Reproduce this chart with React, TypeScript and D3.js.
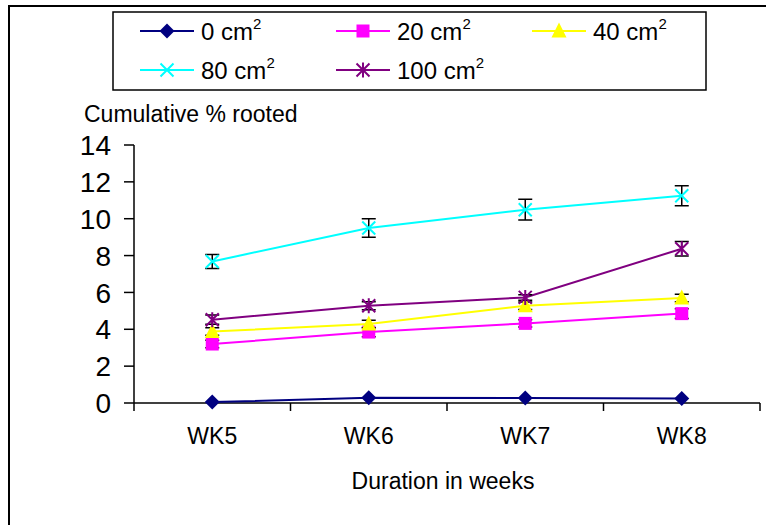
import React from "react";
import * as d3 from "d3";

const weeks = ["WK5", "WK6", "WK7", "WK8"];
const seriesNames = ["0", "20", "40", "80", "100"];
const v0 = [0.05, 0.28, 0.27, 0.25];
const v20 = [3.2, 3.85, 4.32, 4.85];
const v40 = [3.88, 4.29, 5.28, 5.7];
const v80 = [7.68, 9.5, 10.49, 11.25];
const v100 = [4.52, 5.28, 5.73, 8.37];
const e0 = [0, 0, 0, 0];
const e20 = [0.2, 0.25, 0.2, 0.26];
const e40 = [0.2, 0.2, 0.2, 0.2];
const e80 = [0.38, 0.5, 0.56, 0.54];
const e100 = [0.25, 0.22, 0.15, 0.39];
const yTicks = [0, 2, 4, 6, 8, 10, 12, 14];

const colors = ["#000080", "#FF00FF", "#FFFF00", "#00FFFF", "#800080"];
const markerTypes = ["diamond", "square", "triangle", "x", "star"];

const FONT = "'Liberation Sans', Arial, sans-serif";

function Marker({ type, x, y, color }: { type: string; x: number; y: number; color: string }) {
  if (type === "diamond") {
    const r = 7.5;
    return <path d={`M${x},${y - r}L${x + r},${y}L${x},${y + r}L${x - r},${y}Z`} fill={color} />;
  }
  if (type === "square") {
    const r = 6.5;
    return <rect x={x - r} y={y - r} width={2 * r} height={2 * r} fill={color} />;
  }
  if (type === "triangle") {
    const r = 7.5;
    return <path d={`M${x},${y - r - 1}L${x + r},${y + r - 1}L${x - r},${y + r - 1}Z`} fill={color} />;
  }
  if (type === "x") {
    const r = 6.5;
    return (
      <path d={`M${x - r},${y - r}L${x + r},${y + r}M${x - r},${y + r}L${x + r},${y - r}`} stroke={color} strokeWidth={2} />
    );
  }
  const r = 6.5;
  return (
    <path
      d={`M${x - r},${y - r}L${x + r},${y + r}M${x - r},${y + r}L${x + r},${y - r}M${x},${y - r - 1}L${x},${y + r + 1}`}
      stroke={color}
      strokeWidth={2}
    />
  );
}

export default function App() {
  const values = [v0, v20, v40, v80, v100];
  const errs = [e0, e20, e40, e80, e100];

  const x = d3.scaleBand<string>().domain(weeks).range([134, 760]);
  const y = d3.scaleLinear().domain([0, 14]).range([403, 145]);
  const cx = (w: string) => (x(w) as number) + x.bandwidth() / 2;
  const line = d3
    .line<number>()
    .x((_, i) => cx(weeks[i]))
    .y((d) => y(d));

  const boundaries = [...weeks.map((w) => x(w) as number), 760];

  const legendPos = [
    { lx: 140, ly: 31 },
    { lx: 336, ly: 31 },
    { lx: 532, ly: 31 },
    { lx: 140, ly: 70 },
    { lx: 336, ly: 70 },
  ];

  return (
    <div style={{ position: "absolute", left: 0, top: 0 }}>
      <svg width={766} height={525} style={{ display: "block" }} fontFamily={FONT}>
        <rect x={0} y={0} width={766} height={525} fill="#fff" />
        {/* outer frame */}
        <path d="M9,525V6H766" fill="none" stroke="#000" strokeWidth={2} />

        {/* legend */}
        <rect x={113} y={12} width={593} height={78} fill="#fff" stroke="#000" strokeWidth={1.5} />
        {seriesNames.map((n, i) => {
          const { lx, ly } = legendPos[i];
          return (
            <g key={n}>
              <line x1={lx} x2={lx + 54} y1={ly} y2={ly} stroke={colors[i]} strokeWidth={2} />
              <Marker type={markerTypes[i]} x={lx + 27} y={ly} color={colors[i]} />
              <text x={lx + 61} y={ly + 9} fontSize={24} fill="#000">
                {n} cm
                <tspan fontSize={15} dy={-11}>
                  2
                </tspan>
              </text>
            </g>
          );
        })}

        {/* y axis title */}
        <text x={84} y={122} fontSize={23} fill="#000">
          Cumulative % rooted
        </text>

        {/* y axis */}
        <line x1={134} x2={134} y1={y(14)} y2={y(0)} stroke="#000" strokeWidth={1.5} />
        {yTicks.map((t) => (
          <g key={t}>
            <line x1={124} x2={134} y1={y(t)} y2={y(t)} stroke="#000" strokeWidth={1.5} />
            <text x={111} y={y(t)} dy="0.36em" textAnchor="end" fontSize={28} fill="#000">
              {t}
            </text>
          </g>
        ))}

        {/* x axis */}
        <line x1={134} x2={760} y1={y(0)} y2={y(0)} stroke="#000" strokeWidth={1.5} />
        {boundaries.map((b, i) => (
          <line key={i} x1={b} x2={b} y1={y(0)} y2={y(0) + 8} stroke="#000" strokeWidth={1.5} />
        ))}
        {weeks.map((w) => (
          <text key={w} x={cx(w)} y={444} textAnchor="middle" fontSize={23} fill="#000">
            {w}
          </text>
        ))}
        <text x={443} y={489} textAnchor="middle" fontSize={23} fill="#000">
          Duration in weeks
        </text>

        {/* series */}
        {values.map((vals, si) => (
          <g key={si}>
            <path d={line(vals) || ""} fill="none" stroke={colors[si]} strokeWidth={2} />
            {vals.map((v, i) =>
              errs[si][i] > 0 ? (
                <path
                  key={"e" + i}
                  d={`M${cx(weeks[i])},${y(v - errs[si][i])}V${y(v + errs[si][i])}M${cx(weeks[i]) - 7},${y(
                    v - errs[si][i]
                  )}h14M${cx(weeks[i]) - 7},${y(v + errs[si][i])}h14`}
                  stroke="#000"
                  strokeWidth={1.5}
                  fill="none"
                />
              ) : null
            )}
            {vals.map((v, i) => (
              <Marker key={"m" + i} type={markerTypes[si]} x={cx(weeks[i])} y={y(v)} color={colors[si]} />
            ))}
          </g>
        ))}
      </svg>
    </div>
  );
}
